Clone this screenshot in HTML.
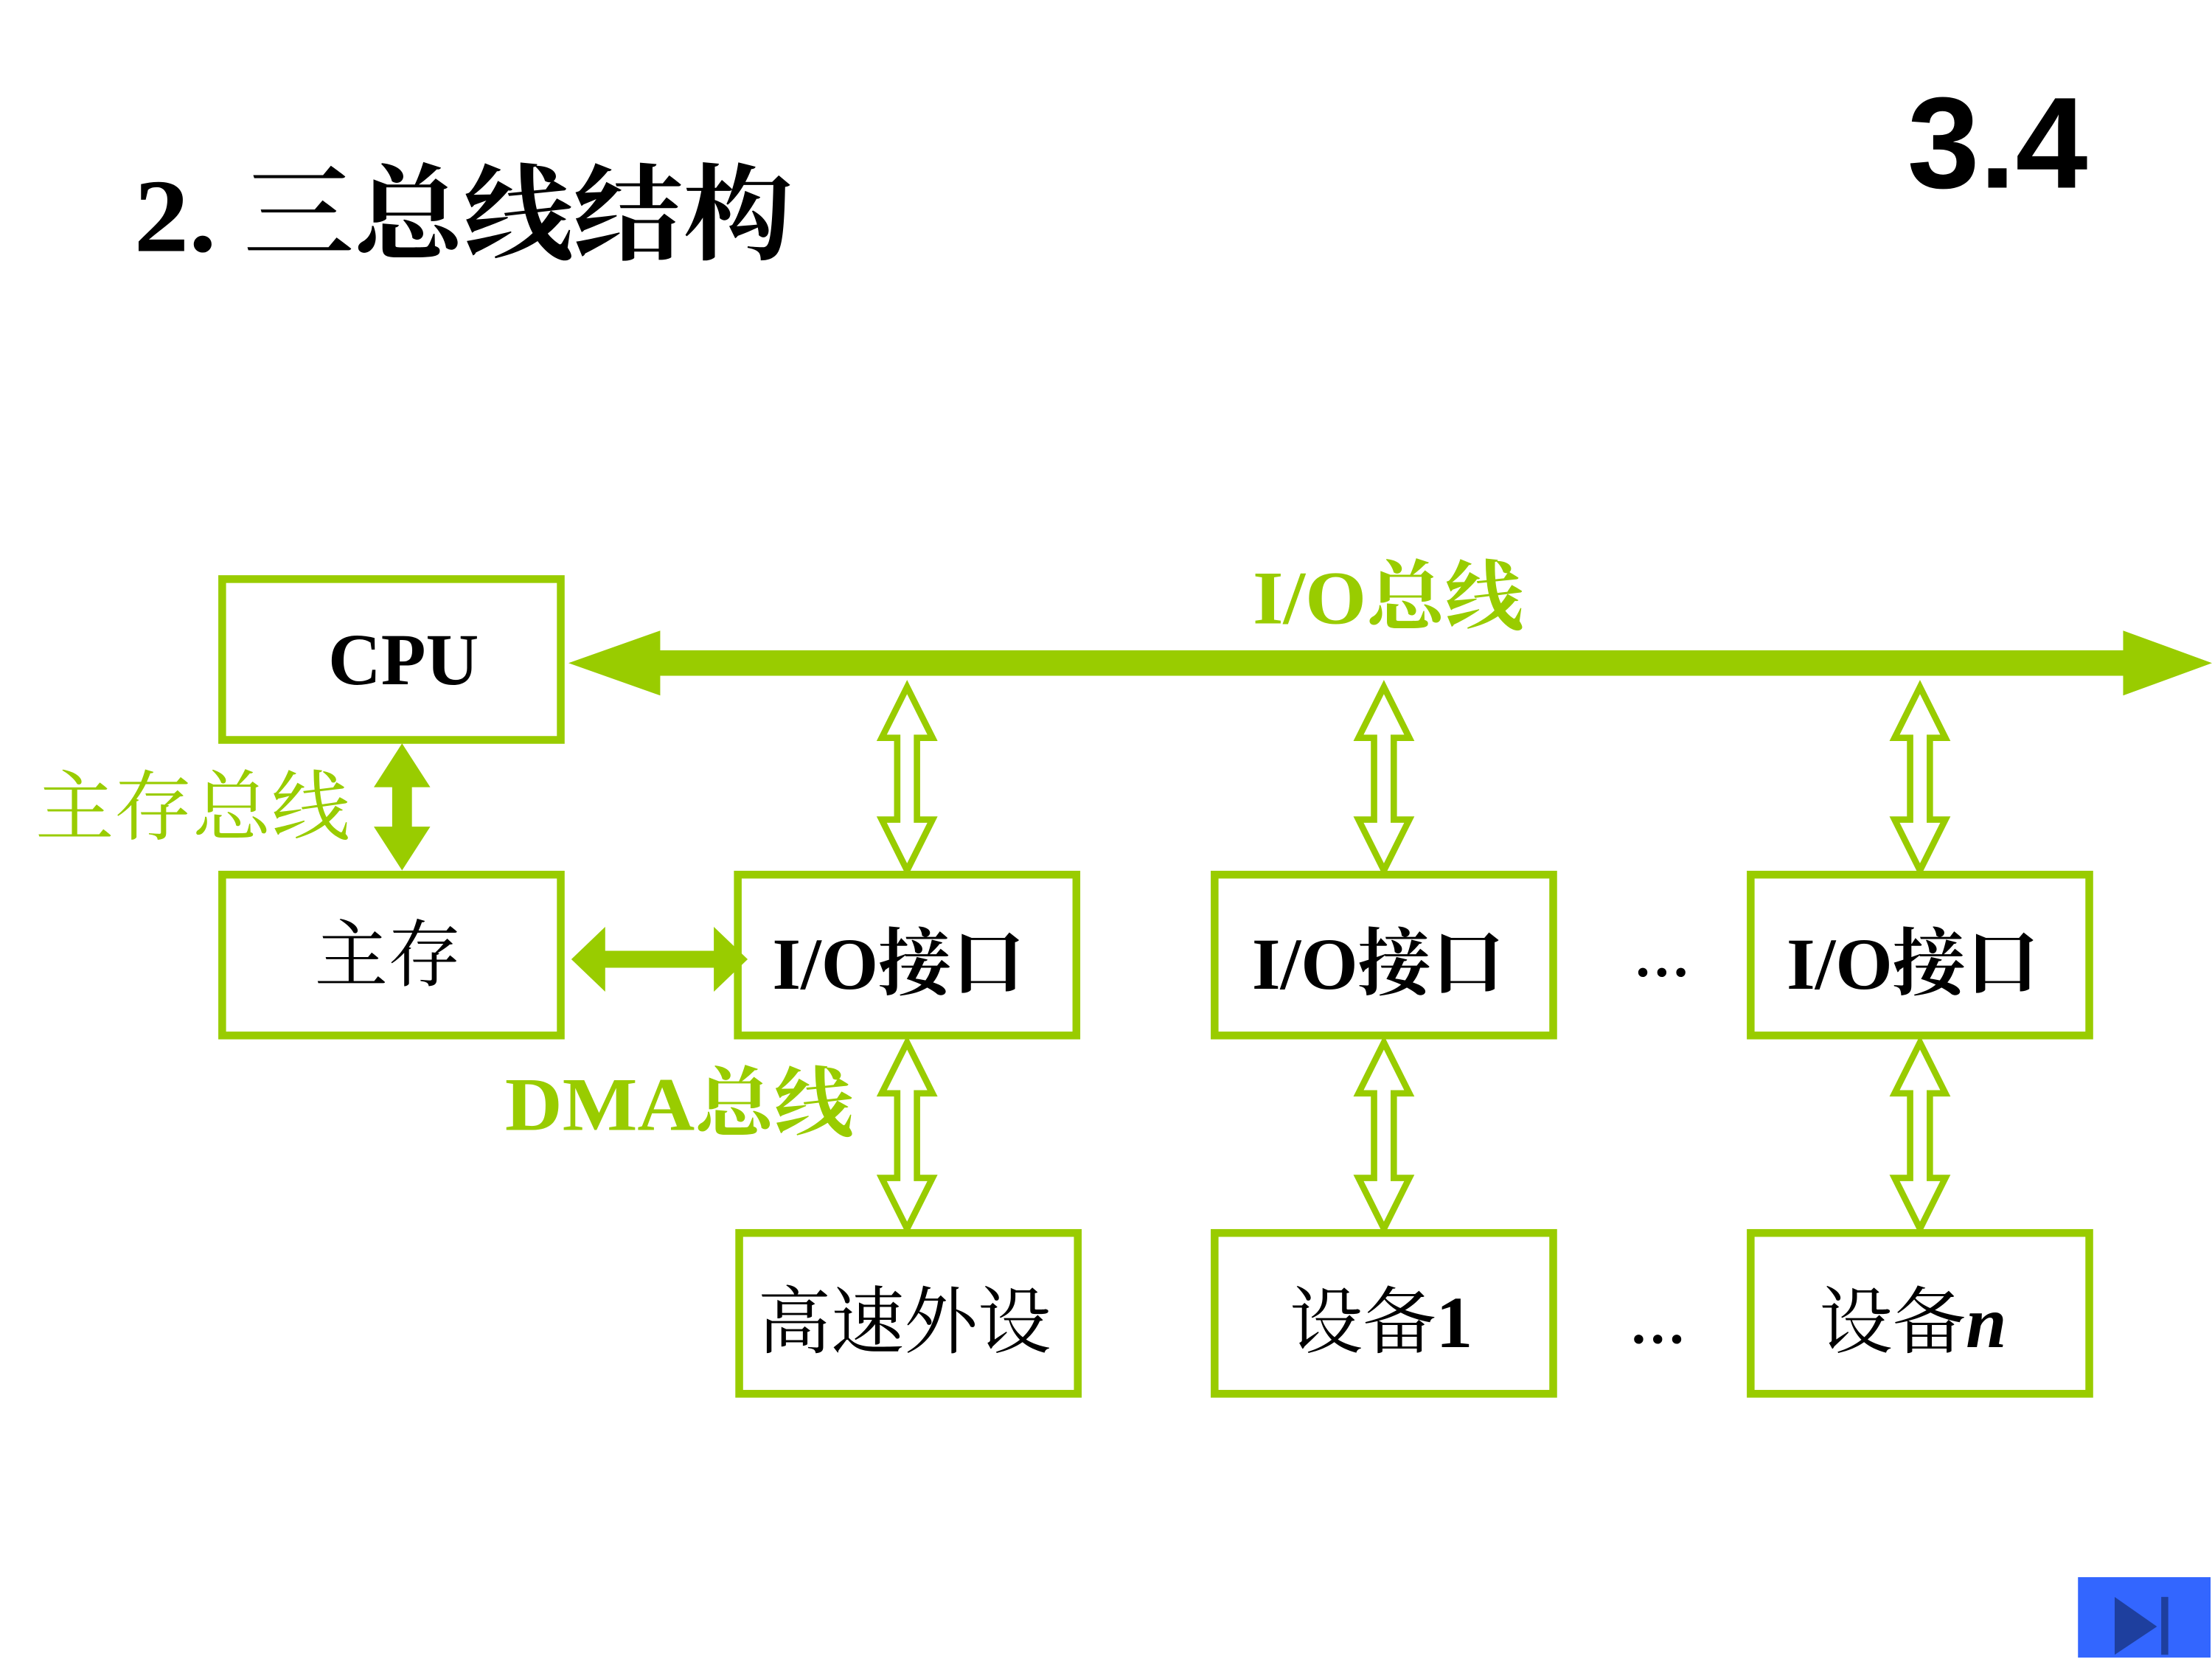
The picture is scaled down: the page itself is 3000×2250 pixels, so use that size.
<!DOCTYPE html>
<html><head><meta charset="utf-8"><style>html,body{margin:0;padding:0;background:#fff}svg{display:block}</style></head>
<body>
<svg width="3000" height="2250" viewBox="0 0 1568 1176" xmlns="http://www.w3.org/2000/svg">
<rect width="1568" height="1176" fill="#fff"/>
<g font-family="'Liberation Serif','Noto Serif CJK SC',serif" font-weight="bold">
<text x="95" y="178" font-size="74" fill="#000" textLength="467" lengthAdjust="spacingAndGlyphs">2. 三总线结构</text>
</g>
<text x="1352" y="133" font-family="'Liberation Sans',sans-serif" font-weight="bold" font-size="92" fill="#000">3.4</text>

<g fill="none" stroke="#99cc00" stroke-width="5.5">
<rect x="157.5" y="410.5" width="240" height="114"/>
<rect x="157.5" y="620" width="240" height="114"/>
<rect x="523" y="620" width="240" height="114"/>
<rect x="861" y="620" width="240" height="114"/>
<rect x="1241" y="620" width="240" height="114"/>
<rect x="524" y="874" width="240" height="114"/>
<rect x="861" y="874" width="240" height="114"/>
<rect x="1241" y="874" width="240" height="114"/>
</g>

<g fill="#99cc00">
<path d="M403,470 L468,447 L468,461 L1505,461 L1505,447 L1568,470 L1505,493 L1505,479 L468,479 L468,493 Z"/>
<path d="M285,527 L305,558 L292,558 L292,586 L305,586 L285,617 L265,586 L278,586 L278,558 L265,558 Z"/>
<path d="M405,680 L429,657 L429,674 L506,674 L506,657 L530,680 L506,703 L506,686 L429,686 L429,703 Z"/>
</g>

<g fill="#fff" stroke="#99cc00" stroke-width="4.5" stroke-linejoin="miter">
<path d="M643,487 L661,523 L650,523 L650,581 L661,581 L643,617 L625,581 L636,581 L636,523 L625,523 Z"/>
<path d="M981,487 L999,523 L988,523 L988,581 L999,581 L981,617 L963,581 L974,581 L974,523 L963,523 Z"/>
<path d="M1361,487 L1379,523 L1368,523 L1368,581 L1379,581 L1361,617 L1343,581 L1354,581 L1354,523 L1343,523 Z"/>
<path d="M643,739 L661,775 L650,775 L650,835 L661,835 L643,871 L625,835 L636,835 L636,775 L625,775 Z"/>
<path d="M981,739 L999,775 L988,775 L988,835 L999,835 L981,871 L963,835 L974,835 L974,775 L963,775 Z"/>
<path d="M1361,739 L1379,775 L1368,775 L1368,835 L1379,835 L1361,871 L1343,835 L1354,835 L1354,775 L1343,775 Z"/>
</g>

<g font-family="'Liberation Serif','Noto Serif CJK SC',serif" font-size="54" fill="#99cc00">
<text x="888" y="442" font-weight="bold" textLength="192" lengthAdjust="spacingAndGlyphs">I/O总线</text>
<text x="25" y="591" textLength="223" lengthAdjust="spacingAndGlyphs">主存总线</text>
<text x="358" y="801" font-weight="bold" textLength="247" lengthAdjust="spacingAndGlyphs">DMA总线</text>
</g>

<g font-family="'Liberation Serif','Noto Serif CJK SC',serif" font-size="52" fill="#000" text-anchor="middle" font-weight="bold">
<text x="286" y="485">CPU</text>
<text x="275" y="695" font-weight="normal">主存</text>
<text x="637" y="701">I/O接口</text>
<text x="977" y="701">I/O接口</text>
<text x="1356" y="701">I/O接口</text>
<text x="641" y="955" font-weight="normal">高速外设</text>
<text x="979" y="955" font-weight="normal">设备<tspan font-weight="bold">1</tspan></text>
<text x="1356" y="955" font-weight="normal">设备<tspan font-weight="bold" font-style="italic">n</tspan></text>
<text x="1178" y="692" font-size="40">…</text>
<text x="1175" y="952" font-size="40">…</text>
</g>

<rect x="1473" y="1118" width="94" height="57" fill="#3366ff"/>
<path d="M1499,1132 L1529,1153 L1499,1173 Z" fill="#1e3f9e"/>
<rect x="1532" y="1132" width="5" height="41" fill="#1e3f9e"/>
</svg>
</body></html>
